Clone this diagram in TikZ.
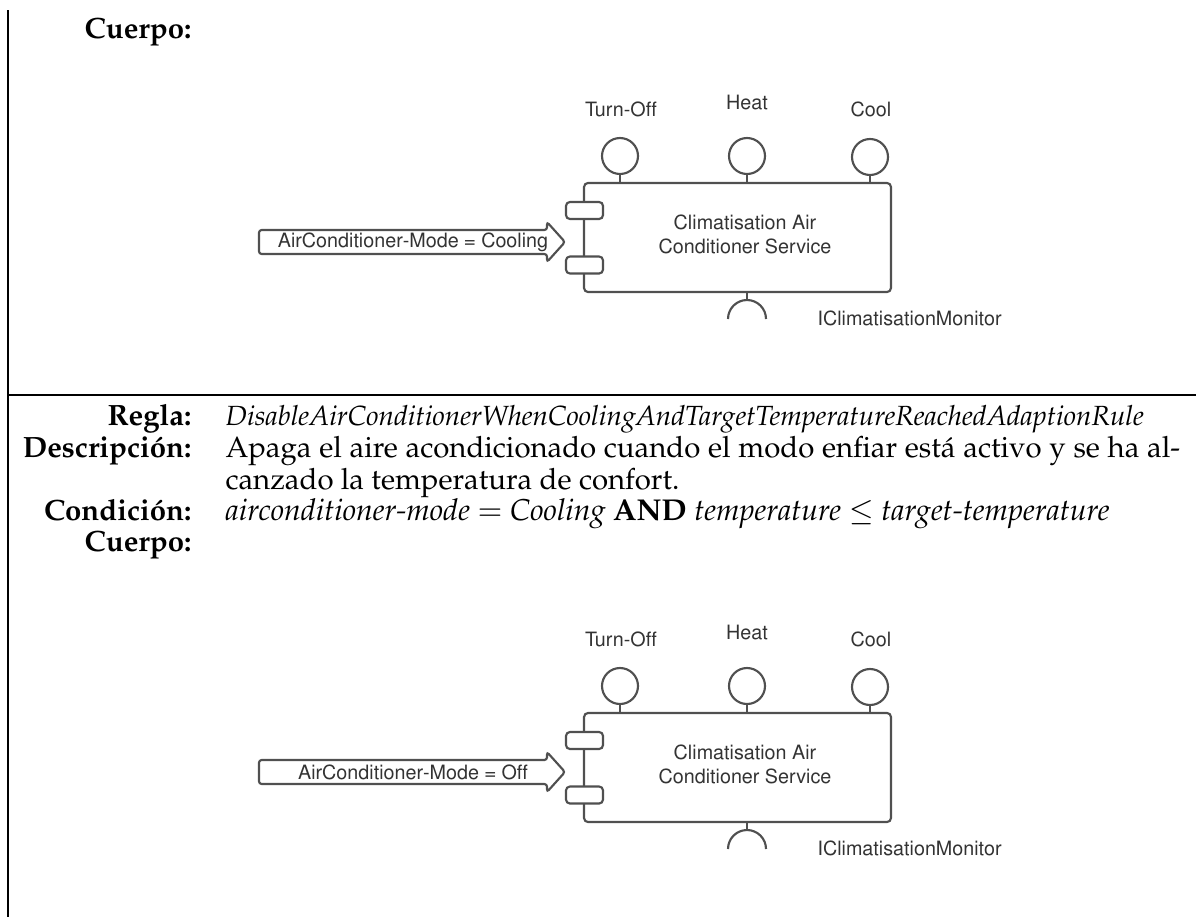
\documentclass[tikz,border=0pt]{standalone}
\usepackage[T1]{fontenc}
\usepackage{mathpazo}
\usepackage{helvet}
\definecolor{umlgray}{HTML}{505050}
\definecolor{umltext}{HTML}{333333}
\tikzset{
  lbl/.style={font=\fontsize{11}{13}\selectfont\bfseries, anchor=base east, inner sep=0pt},
  val/.style={font=\fontsize{11}{13}\selectfont, anchor=base west, inner sep=0pt},
  ruleval/.style={font=\fontsize{10.4}{13}\selectfont, anchor=base west, inner sep=0pt},
  condval/.style={font=\fontsize{11.3}{13}\selectfont, anchor=base west, inner sep=0pt},
  uml/.style={draw=umlgray, line width=0.8pt},
  sf/.style={font=\fontsize{7.4}{9}\selectfont\sffamily, text=umltext, inner sep=0pt},
  compbox/.style={uml, rounded corners=1.5pt, minimum width=115.1pt, minimum height=40.9pt, inner sep=0pt},
  lolli/.style={uml, circle, minimum size=13.5pt, inner sep=0pt, fill=white},
  port/.style={uml, fill=white, rounded corners=1.5pt, minimum width=13.9pt, minimum height=6.4pt, inner sep=0pt},
}
\newcommand\drawcomp[3]{%
\begin{scope}[shift={(0,#2)}]
  \node[compbox] (#1box) at (737.5,237.5) {};
  \node[sf, align=center] (#1name) at (745,234) {Climatisation Air\\Conditioner Service};
  \node[lolli] (#1c1) at (620,156) {};
  \node[lolli] (#1c2) at (747,156) {};
  \node[lolli] (#1c3) at (870,157) {};
  \draw[uml] (#1c1.south) -- (#1c1.south |- #1box.north);
  \draw[uml] (#1c2.south) -- (#1c2.south |- #1box.north);
  \draw[uml] (#1c3.south) -- (#1c3.south |- #1box.north);
  \node[sf] (#1l1) at (621,109) {Turn-Off};
  \node[sf] (#1l2) at (747,103) {Heat};
  \node[sf] (#1l3) at (871,109) {Cool};
  \node[port] (#1p1) at (584.5,210.5) {};
  \node[port] (#1p2) at (584.5,265) {};
  \coordinate (#1s) at (747,300);
  \draw[uml] (#1box.south -| #1s) -- (#1s);
  \draw[uml] (728,319) arc[start angle=180, end angle=360, radius=19];
  \node[sf, anchor=west] (#1mon) at (817,318) {IClimatisationMonitor};
  \draw[uml, rounded corners=1pt] (259,230) -- (547,230) -- (547,222) -- (565,242) -- (547,262) -- (547,254) -- (259,254) -- cycle;
  \node[sf] (#1arr) at (413,242) {#3};
\end{scope}}
\begin{document}
\begin{tikzpicture}[x=0.375pt,y=-0.375pt]
\useasboundingbox (0,0) rectangle (1196,917);
\draw[line width=0.4pt] (8,10) -- (8,917);
\draw[line width=0.4pt] (8,395) -- (1196,395);
\node[lbl] (cu1) at (192,38) {Cuerpo:};
\drawcomp{a}{0}{AirConditioner-Mode = Cooling}
\node[lbl] (re) at (192,425) {Regla:};
\node[ruleval] (rev) at (225,425) {\textit{DisableAirConditionerWhenCoolingAndTargetTemperatureReachedAdaptionRule}};
\node[lbl] (de) at (192,457) {Descripci\'on:};
\node[val] (dev1) at (225,457) {\makebox[358pt][s]{Apaga el aire acondicionado cuando el modo enfiar est\'a activo y se ha al-}};
\node[val] (dev2) at (225,489) {canzado la temperatura de confort.};
\node[lbl] (co) at (192,520) {Condici\'on:};
\node[condval] (cov) at (225,520) {\textit{airconditioner-mode} $=$ \textit{Cooling} \textbf{AND} \textit{temperature} $\leq$ \textit{target-temperature}};
\node[lbl] (cu2) at (192,551) {Cuerpo:};
\drawcomp{b}{530}{AirConditioner-Mode = Off}
\end{tikzpicture}
\end{document}
